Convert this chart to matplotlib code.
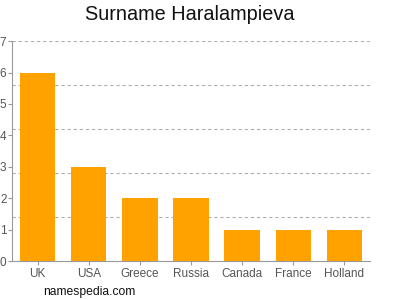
import matplotlib
matplotlib.use("Agg")
import matplotlib.pyplot as plt
import numpy as np

plt.rcParams["font.family"] = ["Liberation Sans", "DejaVu Sans"]

countries = ["UK", "USA", "Greece", "Russia", "Canada", "France", "Holland"]
counts = [6, 3, 2, 2, 1, 1, 1]
y_ticks = [0, 1, 2, 3, 4, 5, 6, 7]
grid_levels = [1.4, 2.8, 4.2, 5.6, 7.0]

fig = plt.figure(figsize=(4, 3), dpi=100)
ax = fig.add_axes([0.03, 0.13, 0.895, 0.733])

x = np.arange(len(countries))
ax.bar(x, counts, width=0.69, color="#FFA200", zorder=3)

for g in grid_levels:
    ax.axhline(g, color="#b0b0b0", linestyle=(0, (3, 2.5)), linewidth=0.8, zorder=1)

ax.set_xlim(-0.5, len(countries) - 0.5)
ax.set_ylim(0, 7)
ax.set_xticks(x)
ax.set_xticklabels(countries)
ax.set_yticks(y_ticks)
ax.tick_params(axis="both", colors="#999999", labelcolor="#555555", labelsize=8.5, length=3, width=0.8)
ax.tick_params(axis="y", pad=1)
ax.tick_params(axis="x", pad=2)

for side in ["top", "right"]:
    ax.spines[side].set_visible(False)
for side in ["left", "bottom"]:
    ax.spines[side].set_color("#999999")
    ax.spines[side].set_linewidth(0.8)

fig.text(0.474, 0.95, "Surname Haralampieva", ha="center", va="center", fontsize=14.3, color="#111111")
fig.text(0.107, 0.027, "namespedia.com", ha="left", va="center", fontsize=8.7, color="#111111")

fig.savefig("out.png", dpi=100)
